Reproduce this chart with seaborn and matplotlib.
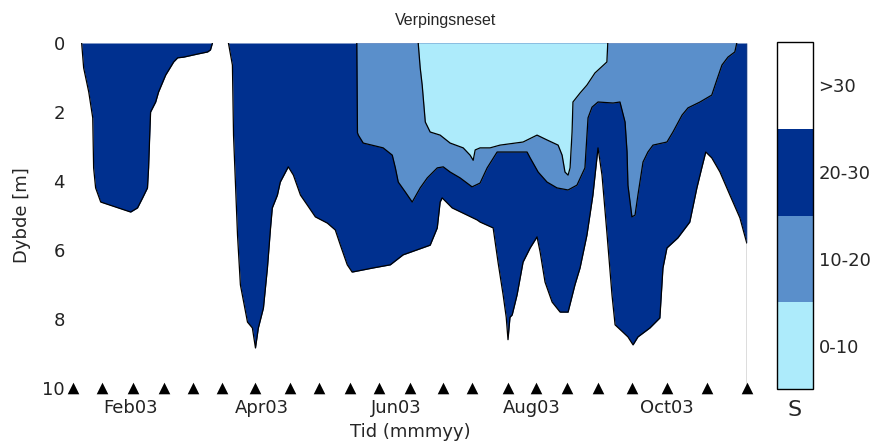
import numpy as np
import pandas as pd
import matplotlib
matplotlib.use("Agg")
import matplotlib.pyplot as plt
import matplotlib.dates as mdates
from matplotlib.colors import ListedColormap, BoundaryNorm
from matplotlib.cm import ScalarMappable
import seaborn as sns

sns.set_theme(style="white")
plt.rcParams['font.family'] = ['DejaVu Sans']

station = "Verpingsneset"

# CTD stations (triangles along the bottom)
sample_dates = ["2003-01-06", "2003-01-19", "2003-02-02", "2003-02-16", "2003-03-01",
                "2003-03-14", "2003-03-29", "2003-04-14", "2003-04-27", "2003-05-11",
                "2003-05-24", "2003-06-07", "2003-06-22", "2003-07-05", "2003-07-21",
                "2003-08-03", "2003-08-17", "2003-08-31", "2003-09-15", "2003-10-01",
                "2003-10-19", "2003-11-06"]

class_labels = ["0-10", "10-20", "20-30", ">30"]
class_colors = ["#ADEBFB", "#5A8FCB", "#00308F", "#FFFFFF"]

# isohaline depths (m); x in days after 1 Jan 2003
# S=30, winter lens
s30_a_day = [8.9, 9.8, 12.1, 13.9, 14.3, 15.2, 17.5, 31.0, 34.1, 36.4, 38.6, 39.1, 39.5,
             40.0, 42.3, 43.6, 46.8, 50.4, 52.2, 54.9, 61.2, 65.7, 67.0, 67.9]
s30_a_depth = [0.0, 0.72, 1.42, 2.17, 3.62, 4.20, 4.61, 4.90, 4.78, 4.49, 4.20, 3.62, 2.87,
               2.00, 1.71, 1.42, 0.93, 0.55, 0.43, 0.41, 0.32, 0.26, 0.20, 0.0]

# S=30, spring to autumn
s30_b_day = [75.1, 76.9, 77.4, 79.2, 80.5, 83.7, 85.9, 87.3, 88.6, 90.9, 92.7, 94.1, 94.9,
             97.2, 98.5, 102.1, 104.4, 107.6, 110.7, 114.3, 119.7, 123.3, 125.6, 128.7,
             130.9, 140.4, 148.1, 153.9, 166.1, 169.3, 170.6, 171.5, 176.0, 182.8, 187.3,
             188.6, 194.5, 196.7, 199.0, 200.4, 201.2, 202.1, 203.1, 205.3, 208.0, 211.2,
             214.3, 215.7, 217.9, 221.1, 224.7, 228.3, 231.4, 233.7, 236.8, 239.5, 241.8,
             243.6, 245.9, 248.1, 249.5, 253.0, 255.3, 257.6, 259.8, 265.2, 269.7, 271.1,
             272.9, 277.8, 283.2, 286.4, 288.6, 290.4, 293.1, 296.8, 301.3, 305.8, 308.9]
s30_b_depth = [0.0, 0.64, 2.67, 5.57, 7.01, 8.09, 8.26, 8.84, 8.26, 7.68, 6.52, 5.36, 4.78,
               4.41, 4.03, 3.59, 3.83, 4.41, 4.70, 5.04, 5.22, 5.42, 5.86, 6.43,
               6.64, 6.52, 6.43, 6.14, 5.86, 5.36, 4.61, 4.49, 4.78, 4.99, 5.13,
               5.19, 5.36, 6.35, 7.30, 7.95, 8.60, 7.95, 7.88, 7.30, 6.35, 5.94,
               5.62, 6.06, 6.93, 7.51, 7.80, 7.80, 7.01, 6.52, 5.57, 4.41, 3.04,
               3.83, 5.57, 7.30, 8.17, 8.38, 8.52, 8.75, 8.52, 8.26, 7.97, 6.52,
               5.94, 5.65, 5.19, 4.20, 3.62, 3.16, 3.33, 3.74, 4.41, 5.07, 5.80]

# S=20
s20_day = [133.0, 133.3, 133.7, 135.9, 144.9, 149.0, 150.4, 151.7, 154.9, 158.0, 161.6,
           164.8, 169.3, 172.0, 175.1, 179.6, 185.0, 188.6, 191.8, 196.3, 209.8, 211.2,
           214.8, 218.8, 223.3, 228.3, 232.3, 235.9, 237.3, 239.1, 241.8, 248.6, 251.7,
           254.0, 254.9, 255.3, 257.1, 258.5, 259.8, 262.1, 264.3, 266.6, 272.9, 275.6,
           279.7, 282.4, 287.8, 293.1, 295.4, 297.7, 300.4, 303.5, 304.4]
s20_depth = [0.0, 2.60, 2.67, 2.90, 3.04, 3.25, 3.62, 4.03, 4.32, 4.61, 4.20,
             3.91, 3.62, 3.59, 3.74, 3.91, 4.17, 4.06, 3.62, 3.16, 3.16, 3.33,
             3.74, 4.03, 4.20, 4.26, 4.12, 3.62, 2.17, 1.86, 1.71, 1.74, 1.71,
             2.29, 3.16, 4.12, 5.04, 4.99, 4.41, 3.45, 3.16, 2.96, 2.87, 2.58,
             2.09, 1.88, 1.71, 1.51, 1.07, 0.64, 0.41, 0.26, 0.0]

# S=10
s10_day = [160.7, 161.6, 162.5, 163.9, 166.1, 170.6, 175.1, 181.0, 184.1, 185.5, 186.4,
           188.6, 193.1, 197.6, 208.0, 214.3, 218.8, 223.8, 225.6, 226.9, 228.3, 229.2,
           230.1, 230.5, 233.7, 236.8, 240.4, 245.8, 246.2]
s10_depth = [0.0, 0.72, 1.22, 2.29, 2.58, 2.67, 2.90, 3.04, 3.25, 3.40, 3.10,
             3.04, 3.04, 2.96, 2.87, 2.67, 2.81, 2.96, 3.25, 3.74, 3.83, 3.62,
             2.58, 1.71, 1.45, 1.22, 0.87, 0.55, 0.0]


def to_dates(days):
    return (pd.Timestamp("2003-01-01") + pd.to_timedelta(np.asarray(days), unit="D")).to_numpy()


W, H = 872, 443
fig = plt.figure(figsize=(W / 100, H / 100), dpi=100)
ax = fig.add_axes([73 / W, 1 - 388 / H, 674 / W, 345 / H])

light, mid, dark = class_colors[0], class_colors[1], class_colors[2]
for days, depth in [(s30_a_day, s30_a_depth), (s30_b_day, s30_b_depth)]:
    d = to_dates(days)
    ax.fill_between(d, 0, depth, color=dark, lw=0)
    ax.plot(d, depth, color="black", lw=0.9)
for days, depth, col in [(s20_day, s20_depth, mid), (s10_day, s10_depth, light)]:
    d = to_dates(days)
    ax.fill_between(d, 0, depth, color=col, lw=0)
    ax.plot(d, depth, color="black", lw=0.9)

st = pd.to_datetime(sample_dates)
ax.plot([st[-1], st[-1]], [0, 10], color="#555555", lw=1.0)
sns.scatterplot(x=st, y=[10] * len(st), marker="^", s=70, color="black",
                linewidth=0, ax=ax, clip_on=False, zorder=5)

ax.set_xlim(st[0], st[-1])
ax.set_ylim(10, 0)
ax.set_yticks(range(0, 11, 2))
ax.xaxis.set_major_locator(mdates.MonthLocator(bymonth=[2, 4, 6, 8, 10]))
ax.xaxis.set_major_formatter(mdates.DateFormatter("%b%y"))
ax.tick_params(axis="x", length=0, pad=8, labelsize=13, colors="#222222")
ax.tick_params(axis="y", length=0, pad=6, labelsize=13, colors="#222222")
sns.despine(ax=ax, left=True, bottom=True)
ax.set_xlabel("Tid (mmmyy)", fontsize=13)
ax.set_ylabel("Dybde [m]", fontsize=13)
ax.xaxis.set_label_coords(0.5, -(423 - 388) / 345)
ax.yaxis.set_label_coords((31 - 73) / 674, 0.5)
ax.set_facecolor("white")

fig.text(446 / W, 1 - 20 / H, station, ha="center", va="center", fontsize=11.5,
         family=["Liberation Sans", "DejaVu Sans"])

cax = fig.add_axes([777 / W, 1 - 389 / H, 36 / W, 347 / H])
sm = ScalarMappable(norm=BoundaryNorm([0, 10, 20, 30, 40], 4), cmap=ListedColormap(class_colors))
cb = fig.colorbar(sm, cax=cax, ticks=[5, 15, 25, 35])
cb.set_ticklabels(class_labels)
cax.minorticks_off()
cax.yaxis.set_tick_params(which="major", direction="in", length=4, width=0.8,
                          left=True, right=True, labelsize=13, pad=4, color="black")
cb.outline.set_edgecolor("black")
cb.outline.set_linewidth(1.0)
fig.text(795 / W, 1 - 410 / H, "S", ha="center", va="center", fontsize=16)

fig.savefig("out.png", dpi=100)
